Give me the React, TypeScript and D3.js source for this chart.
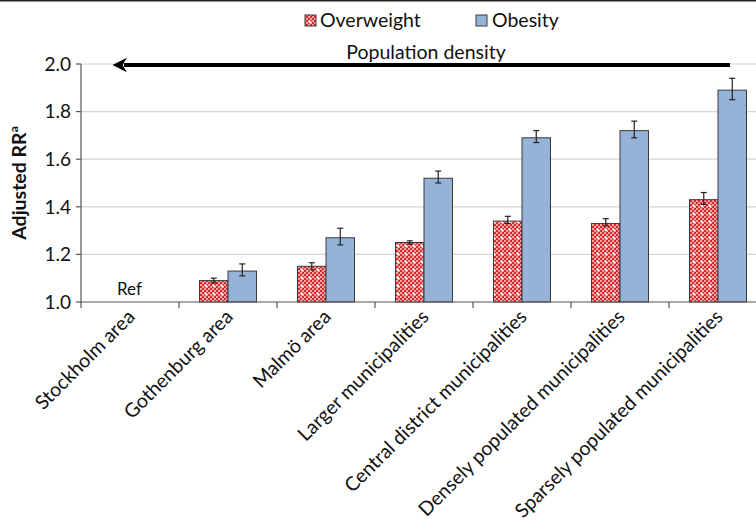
import React from "react";
import * as d3 from "d3";

const categories = [
  "Stockholm area",
  "Gothenburg area",
  "Malmö area",
  "Larger municipalities",
  "Central district municipalities",
  "Densely populated municipalities",
  "Sparsely populated municipalities",
];
const overweight: (number | null)[] = [null, 1.09, 1.15, 1.25, 1.34, 1.33, 1.43];
const overweightLo: (number | null)[] = [null, 1.08, 1.135, 1.243, 1.33, 1.32, 1.41];
const overweightHi: (number | null)[] = [null, 1.1, 1.165, 1.257, 1.36, 1.35, 1.46];
const obesity: (number | null)[] = [null, 1.13, 1.27, 1.52, 1.69, 1.72, 1.89];
const obesityLo: (number | null)[] = [null, 1.11, 1.24, 1.5, 1.67, 1.69, 1.85];
const obesityHi: (number | null)[] = [null, 1.16, 1.31, 1.55, 1.72, 1.76, 1.94];
const yTicks = [1.0, 1.2, 1.4, 1.6, 1.8, 2.0];
const seriesNames = ["Overweight", "Obesity"];

const FONT = "Lato, 'Open Sans', sans-serif";

function checkerCells() {
  const cells: JSX.Element[] = [];
  for (let r = 0; r < 4; r++) {
    for (let c = 0; c < 4; c++) {
      if ((r + c) % 2 === 0) cells.push(<rect key={r + "-" + c} x={c * 2} y={r * 2} width={2} height={2} fill="#f4a8a8" />);
    }
  }
  return cells;
}

export default function App() {
  const W = 756;
  const H = 530;
  const x0 = 81;
  const band = 98;
  const x = d3
    .scaleBand<string>()
    .domain(categories)
    .range([x0, x0 + band * categories.length])
    .paddingInner(0)
    .paddingOuter(0);
  const y = d3.scaleLinear().domain([1.0, 2.0]).range([302, 64]);
  const barW = 28.5;
  const series = [
    { name: seriesNames[0], vals: overweight, lo: overweightLo, hi: overweightHi, fill: "url(#checker)" },
    { name: seriesNames[1], vals: obesity, lo: obesityLo, hi: obesityHi, fill: "#95b3d7" },
  ];
  return (
    <svg width={W} height={H} style={{ position: "absolute", left: 0, top: 0, background: "#fff" }} fontFamily={FONT}>
      <defs>
        <pattern id="checker" width="8" height="8" patternUnits="userSpaceOnUse">
          <rect width="8" height="8" fill="#d8262b" />
          {checkerCells()}
          <rect x="5" y="5" width="2" height="2" fill="#ffffff" />
          <rect x="4.5" y="5.5" width="3" height="1" fill="#ffffff" />
          <rect x="5.5" y="4.5" width="1" height="3" fill="#ffffff" />
        </pattern>
        <marker id="arrowhead" viewBox="0 0 10 10" refX="2" refY="5" markerWidth="3.6" markerHeight="4" orient="auto-start-reverse">
          <path d="M0,0 L10,5 L0,10 L3,5 Z" fill="#000" />
        </marker>
      </defs>
      {/* top border */}
      <line x1={0} x2={W} y1={0.75} y2={0.75} stroke="#222" strokeWidth={1.5} />

      {/* gridlines */}
      {yTicks.slice(1).map((t) => (
        <line key={"g" + t} x1={x0} x2={W} y1={y(t)} y2={y(t)} stroke="#d4d4d4" strokeWidth={1.2} />
      ))}

      {/* bars */}
      {categories.map((c, i) => {
        const cx = (x(c) as number) + x.bandwidth() / 2;
        return (
          <g key={c}>
            {series.map((s, k) => {
              const v = s.vals[i];
              if (v == null) return null;
              const bx = cx - barW + k * barW;
              const lo = s.lo[i] as number;
              const hi = s.hi[i] as number;
              const ex = bx + barW / 2;
              return (
                <g key={s.name}>
                  <rect x={bx} y={y(v)} width={barW} height={y(1.0) - y(v)} fill={s.fill} stroke="#3a3a3a" strokeWidth={1} />
                  <line x1={ex} x2={ex} y1={y(hi)} y2={y(lo)} stroke="#222" strokeWidth={1.2} />
                  <line x1={ex - 3} x2={ex + 3} y1={y(hi)} y2={y(hi)} stroke="#222" strokeWidth={1.2} />
                  <line x1={ex - 3} x2={ex + 3} y1={y(lo)} y2={y(lo)} stroke="#222" strokeWidth={1.2} />
                </g>
              );
            })}
          </g>
        );
      })}

      {/* Ref label */}
      <text x={(x(categories[0]) as number) + 36} y={y(1.0) - 7} fontSize={17} fill="#111">
        Ref
      </text>

      {/* axes */}
      <line x1={x0} x2={x0} y1={y(2.0)} y2={y(1.0)} stroke="#555" strokeWidth={1.2} />
      <line x1={x0} x2={W} y1={y(1.0)} y2={y(1.0)} stroke="#555" strokeWidth={1.2} />
      {yTicks.map((t) => (
        <g key={"t" + t}>
          <line x1={x0 - 5} x2={x0} y1={y(t)} y2={y(t)} stroke="#555" strokeWidth={1.2} />
          <text x={x0 - 10} y={y(t)} dy="0.36em" textAnchor="end" fontSize={19} fill="#111">
            {d3.format(".1f")(t)}
          </text>
        </g>
      ))}
      {categories.map((c) => (
        <line key={"xt" + c} x1={x(c) as number} x2={x(c) as number} y1={y(1.0)} y2={y(1.0) + 6} stroke="#555" strokeWidth={1.2} />
      ))}
      {categories.map((c) => {
        const cx = (x(c) as number) + x.bandwidth() / 2 + 6;
        const ty = 318;
        return (
          <text key={"xl" + c} x={cx} y={ty} textAnchor="end" fontSize={19.5} fill="#111" transform={`rotate(-45 ${cx} ${ty})`}>
            {c}
          </text>
        );
      })}

      {/* y-axis title */}
      <text transform={`translate(26 ${y(1.5)}) rotate(-90)`} textAnchor="middle" fontSize={19.5} fontWeight="bold" fill="#111">
        Adjusted RR<tspan fontSize={12} dy={-8}>a</tspan>
      </text>

      {/* population density arrow */}
      <line x1={730} x2={124} y1={65} y2={65} stroke="#000" strokeWidth={4} markerEnd="url(#arrowhead)" />
      <text x={426} y={59} textAnchor="middle" fontSize={19.5} fill="#111">
        Population density
      </text>

      {/* legend */}
      <rect x={305} y={15} width={11} height={11} fill="url(#checker)" stroke="#3a3a3a" strokeWidth={1} />
      <text x={320} y={27} fontSize={19.5} fill="#111">
        {seriesNames[0]}
      </text>
      <rect x={476} y={15} width={11} height={11} fill="#95b3d7" stroke="#3a3a3a" strokeWidth={1} />
      <text x={492} y={27} fontSize={19.5} fill="#111">
        {seriesNames[1]}
      </text>
    </svg>
  );
}
